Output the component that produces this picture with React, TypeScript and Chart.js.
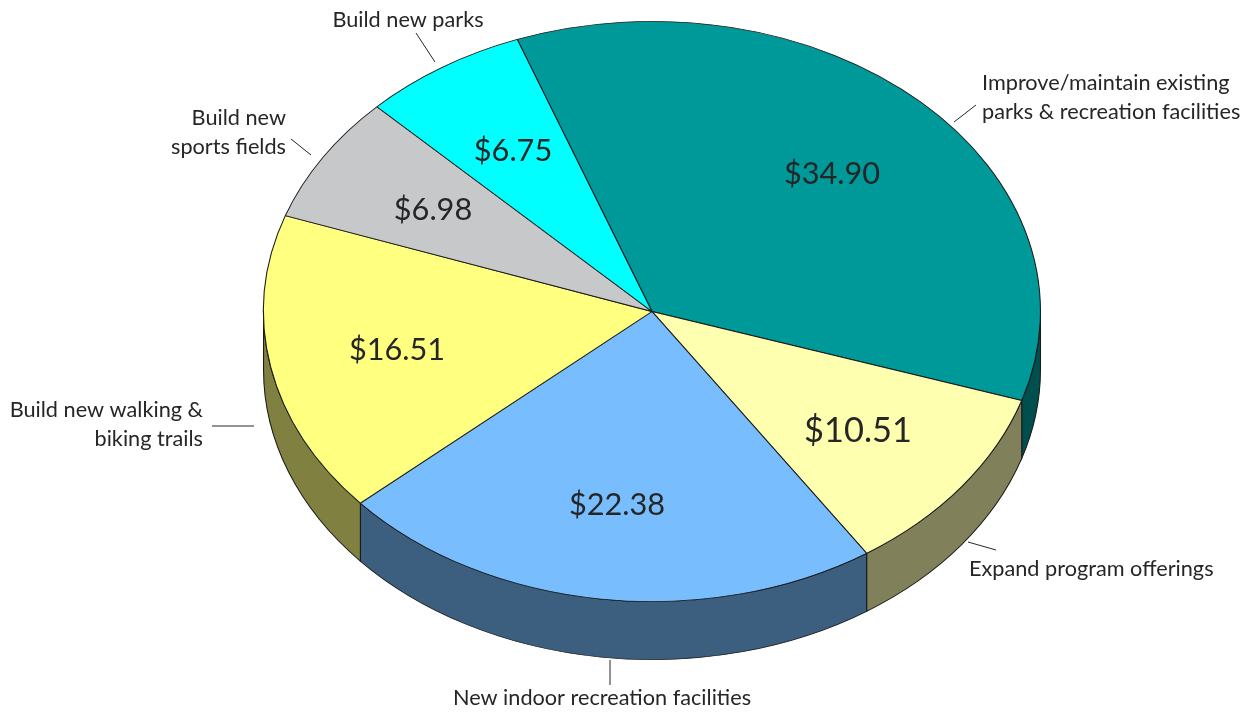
import React, { useEffect, useRef } from "react";
import { Chart, registerables } from "chart.js";

Chart.register(...registerables);

const categories = [
  "Improve/maintain existing parks & recreation facilities",
  "Expand program offerings",
  "New indoor recreation facilities",
  "Build new walking & biking trails",
  "Build new sports fields",
  "Build new parks",
];
const values = [34.9, 10.51, 22.38, 16.51, 6.98, 6.75];
const topColors = ["#009999", "#FFFFB0", "#78BEFF", "#FFFF80", "#C7C8CA", "#00FFFF"];
const wallColors = ["#004F4F", "#80805A", "#3C5F7F", "#808040", "#646465", "#008080"];

const valueLabelCentres = [
  [832, 174, 30.7],
  [858, 431, 34.4],
  [617, 505, 30.7],
  [397, 350, 30.7],
  [433, 210, 30.7],
  [513, 151, 30.7],
];
const categoryLines = [
  { lines: ["Improve/maintain existing", "parks & recreation facilities"], x: 982, y: 83, align: "left" },
  { lines: ["Expand program offerings"], x: 969, y: 569, align: "left" },
  { lines: ["New indoor recreation facilities"], x: 602, y: 698, align: "center" },
  { lines: ["Build new walking &", "biking trails"], x: 203, y: 410, align: "right" },
  { lines: ["Build new", "sports fields"], x: 286, y: 118, align: "right" },
  { lines: ["Build new parks"], x: 408, y: 20, align: "center" },
];
const leaders = [
  [954, 122, 976, 105],
  [968, 542, 996, 550],
  [610, 660, 610, 685],
  [212, 426, 254, 426],
  [291, 139, 311, 155],
  [416, 33, 435, 62],
];

const FONT = "Lato, 'Open Sans', sans-serif";
const TEXT = "#262626";
const X_STRETCH = 389 / 290.5;
const DEPTH = 58;

const tiltPlugin = {
  id: "tilt",
  beforeDatasetsDraw(chart: any) {
    const arcs = chart.getDatasetMeta(0).data;
    const { ctx } = chart;
    const { x: cx, y: cy } = arcs[0];
    ctx.save();
    ctx.translate(cx, cy);
    ctx.scale(X_STRETCH, 1);
    ctx.translate(-cx, -cy);
    ctx.lineWidth = 0.8;
    ctx.strokeStyle = "#1a1a1a";
    arcs.forEach((arc: any, i: number) => {
      for (let k = -1; k <= 1; k++) {
        const a0 = Math.max(arc.startAngle + k * 2 * Math.PI, 0);
        const a1 = Math.min(arc.endAngle + k * 2 * Math.PI, Math.PI);
        if (a1 <= a0) continue;
        ctx.beginPath();
        ctx.arc(cx, cy, arc.outerRadius, a0, a1);
        ctx.arc(cx, cy + DEPTH, arc.outerRadius, a1, a0, true);
        ctx.closePath();
        ctx.fillStyle = wallColors[i];
        ctx.fill();
        ctx.stroke();
      }
    });
  },
  afterDatasetsDraw(chart: any) {
    chart.ctx.restore();
  },
  afterDraw(chart: any) {
    const { ctx } = chart;
    ctx.save();
    ctx.fillStyle = TEXT;
    ctx.textBaseline = "middle";
    values.forEach((v, i) => {
      const [x, y, size] = valueLabelCentres[i];
      ctx.font = `${size}px ${FONT}`;
      ctx.textAlign = "center";
      ctx.fillText(`$${v.toFixed(2)}`, x, y);
    });
    ctx.font = `21.7px ${FONT}`;
    categoryLines.forEach((c) => {
      ctx.textAlign = c.align;
      c.lines.forEach((line, j) => ctx.fillText(line, c.x, c.y + j * 29));
    });
    ctx.strokeStyle = "#262626";
    ctx.lineWidth = 1;
    leaders.forEach(([x0, y0, x1, y1]) => {
      ctx.beginPath();
      ctx.moveTo(x0, y0);
      ctx.lineTo(x1, y1);
      ctx.stroke();
    });
    ctx.restore();
  },
};

export default function App() {
  const ref = useRef<HTMLCanvasElement>(null);
  useEffect(() => {
    const chart = new Chart(ref.current!, {
      type: "pie",
      data: {
        labels: categories,
        datasets: [
          {
            data: values,
            backgroundColor: topColors,
            borderColor: "#1a1a1a",
            borderWidth: 0.8,
            clip: false,
          } as any,
        ],
      },
      options: {
        responsive: false,
        animation: false,
        rotation: -20.3,
        layout: { padding: { top: 21, bottom: 110, left: 264, right: 209 } },
        plugins: { legend: { display: false }, tooltip: { enabled: false } },
      },
      plugins: [tiltPlugin],
    });
    return () => chart.destroy();
  }, []);
  return (
    <canvas
      ref={ref}
      width={1249}
      height={712}
      style={{ position: "absolute", left: 0, top: 0, width: 1249, height: 712 }}
    />
  );
}
